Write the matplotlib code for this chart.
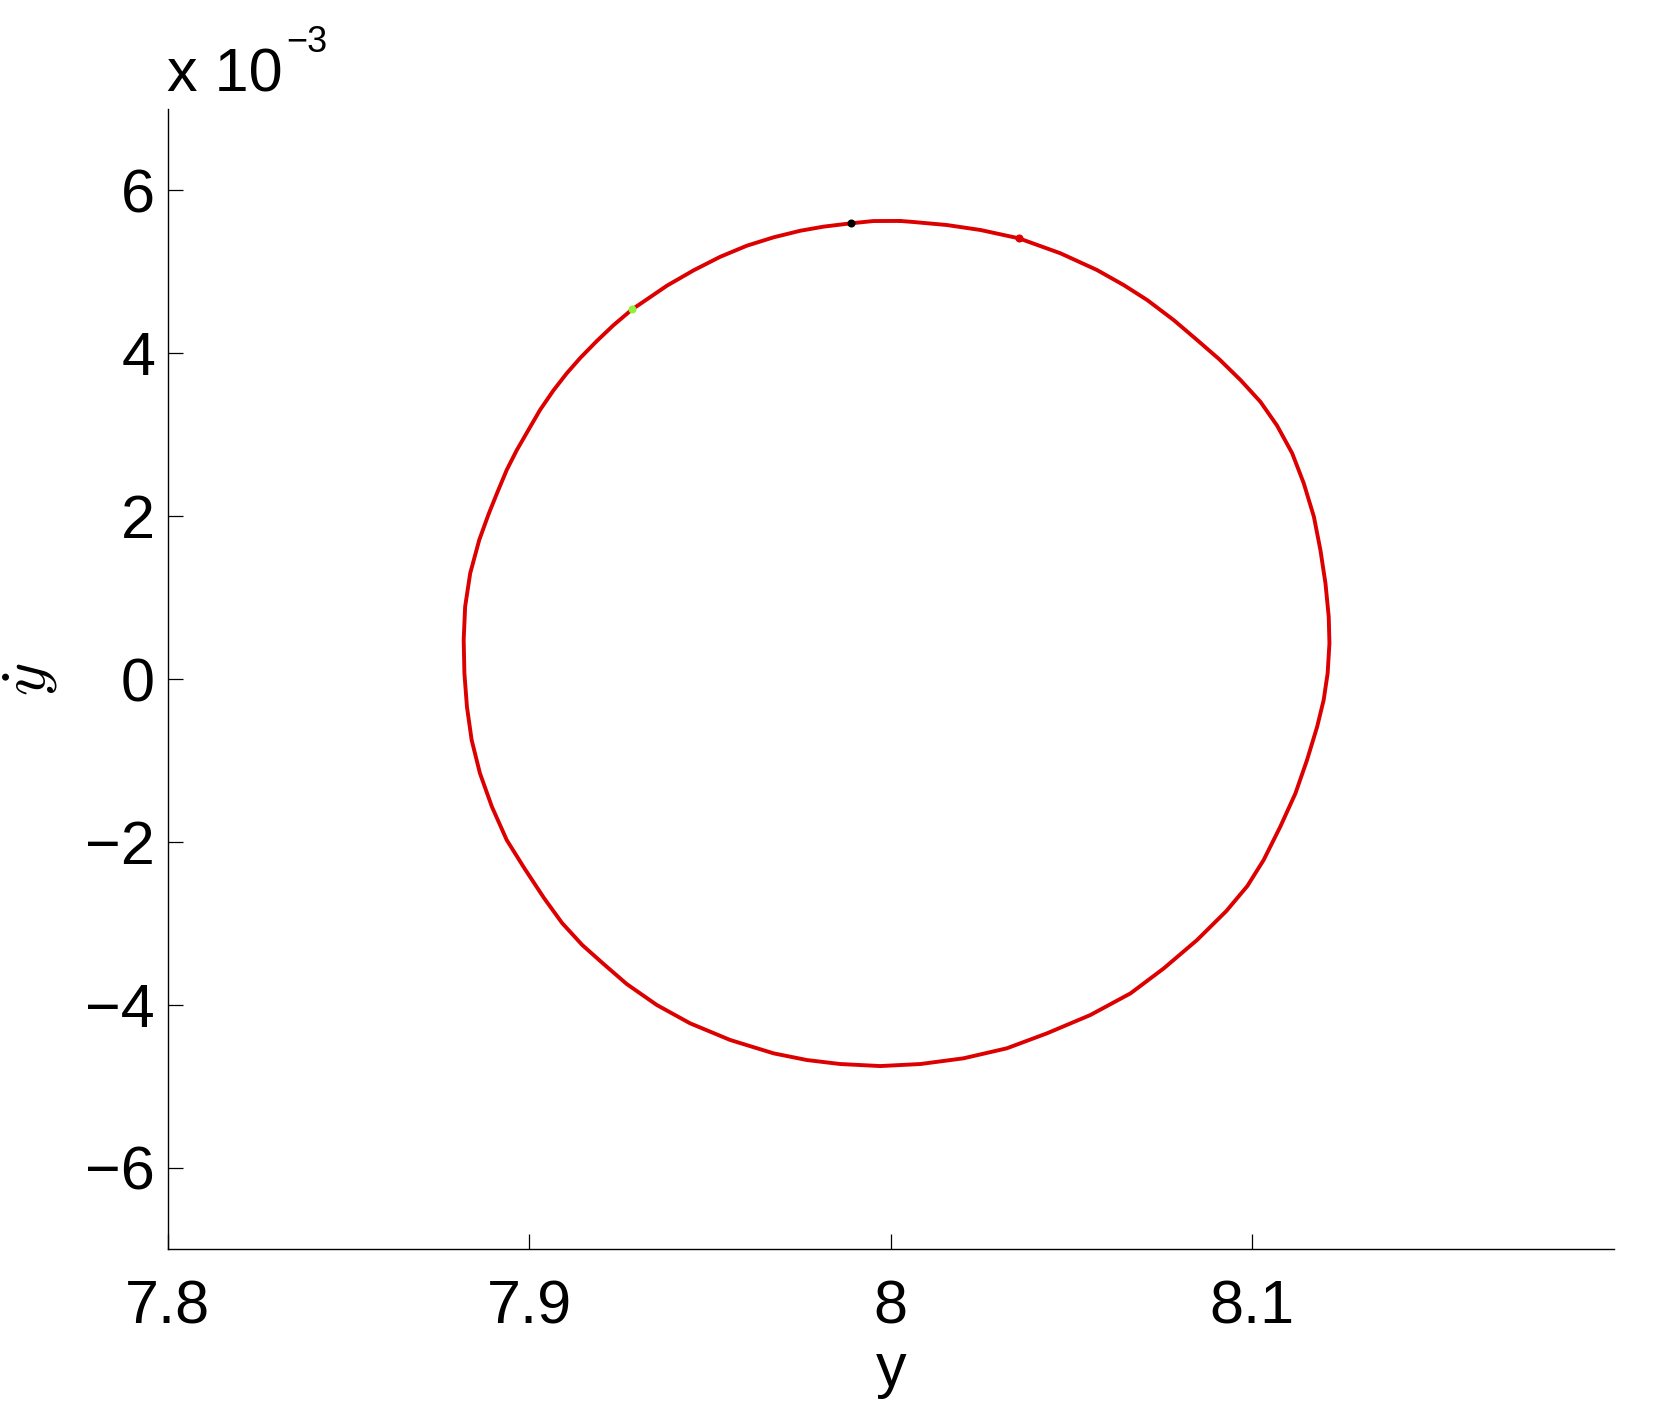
import matplotlib
matplotlib.use('Agg')
import matplotlib.pyplot as plt

# phase-plane orbit: y and dy/dt (dy/dt in units of 1e-3)
y_pos = [8.0026, 7.9952, 7.9890, 7.9814, 7.9750, 7.9676, 7.9602, 7.9528,
         7.9455, 7.9381, 7.9307, 7.9285, 7.9233, 7.9187, 7.9141, 7.9104,
         7.9067, 7.9030, 7.8998, 7.8966, 7.8938, 7.8911, 7.8888, 7.8862,
         7.8837, 7.8823, 7.8819, 7.8821, 7.8828, 7.8841, 7.8864, 7.8897,
         7.8938, 7.8987, 7.9041, 7.9091, 7.9147, 7.9206, 7.9270, 7.9353,
         7.9445, 7.9556, 7.9676, 7.9768, 7.9860, 7.9971,
         8.0082, 8.0201, 8.0321, 8.0432, 8.0552, 8.0663, 8.0755, 8.0847,
         8.0928, 8.0986, 8.1031, 8.1077, 8.1119, 8.1151, 8.1179, 8.1197,
         8.1208,
         8.1213, 8.1211, 8.1202, 8.1188, 8.1170, 8.1142, 8.1110, 8.1068,
         8.1022, 8.0967, 8.0909, 8.0847, 8.0782, 8.0709, 8.0644, 8.0570,
         8.0469, 8.0354, 8.0248, 8.0155, 8.0063, 8.0026]
y_dot = [5.625, 5.624, 5.596, 5.555, 5.505, 5.424, 5.321, 5.184,
         5.019, 4.830, 4.606, 4.540, 4.344, 4.150, 3.941, 3.754,
         3.543, 3.303, 3.058, 2.812, 2.567, 2.280, 2.026, 1.707,
         1.298, 0.888, 0.479, 0.070, -0.340, -0.749, -1.158, -1.568,
         -1.977, -2.325, -2.689, -2.996, -3.267, -3.500, -3.746, -4.003,
         -4.228, -4.433, -4.597, -4.679, -4.728, -4.753,
         -4.728, -4.658, -4.535, -4.351, -4.126, -3.860, -3.553, -3.205,
         -2.849, -2.542, -2.223, -1.814, -1.404, -0.995, -0.586, -0.258,
         0.070,
         0.438, 0.765, 1.175, 1.584, 1.993, 2.403, 2.772, 3.113,
         3.405, 3.672, 3.924, 4.163, 4.409, 4.654, 4.838, 5.023,
         5.228, 5.412, 5.514, 5.575, 5.612, 5.625]

# marked states on the orbit
mark_y = [7.9890, 8.0354, 7.9285]
mark_ydot = [5.596, 5.412, 4.540]
mark_colors = ['black', '#dc0000', '#8ef03a']

x_ticks = [7.8, 7.9, 8.0, 8.1]
x_tick_labels = ['7.8', '7.9', '8', '8.1']
y_ticks = [-6, -4, -2, 0, 2, 4, 6]

plt.rcParams['font.family'] = ['Liberation Sans', 'DejaVu Sans']
plt.rcParams['mathtext.fontset'] = 'cm'

fig = plt.figure(figsize=(16.7, 14.08), dpi=100)
ax = fig.add_axes([0.1003, 0.1129, 0.8662, 0.8097])

ax.plot(y_pos, y_dot, color='#dc0000', lw=2.8,
        solid_joinstyle='round', solid_capstyle='round')
for xm, ym, c in zip(mark_y, mark_ydot, mark_colors):
    ax.plot(xm, ym, 'o', color=c, ms=5.8, mec='none')

ax.set_xlim(7.8, 8.2)
ax.set_ylim(-7, 7)
ax.set_xticks(x_ticks)
ax.set_xticklabels(x_tick_labels)
ax.set_yticks(y_ticks)
ax.set_yticklabels([str(v).replace('-', '\u2212') for v in y_ticks])

for side in ['top', 'right']:
    ax.spines[side].set_visible(False)
for side in ['left', 'bottom']:
    ax.spines[side].set_linewidth(1.0)

ax.tick_params(axis='both', direction='in', length=10.5, width=0.9,
               labelsize=44)
ax.tick_params(axis='x', pad=22)
ax.tick_params(axis='y', pad=9)

ax.set_xlabel('y', fontsize=44, labelpad=4)
ax.set_ylabel(r'$\dot{y}$', fontsize=46, labelpad=18)

# exponent label in the style of the original
fig.text(0.1, 1 - 91 / 1408, 'x 10', fontsize=44, va='baseline', ha='left')
fig.text(0.1713, 1 - 52 / 1408, '\u22123', fontsize=26, va='baseline', ha='left')

fig.savefig('out.png', dpi=100, facecolor='white')
